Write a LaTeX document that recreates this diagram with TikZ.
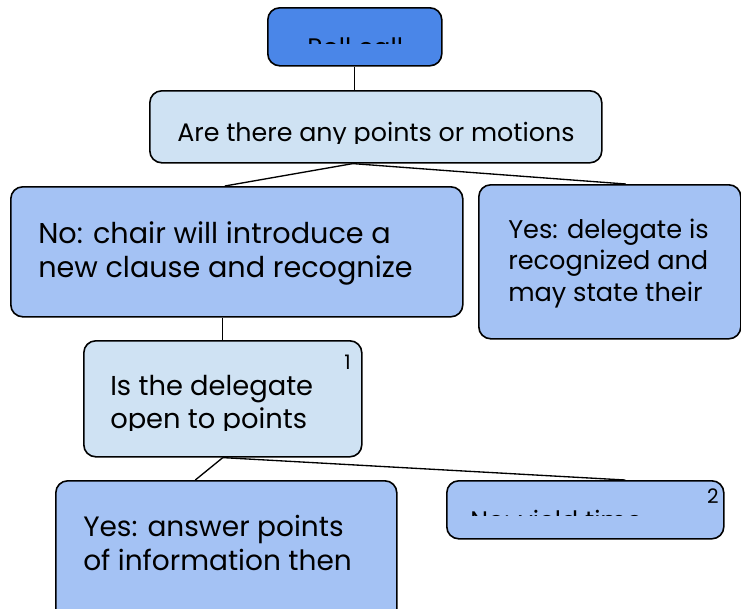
\documentclass[tikz,border=0pt]{standalone}
\usepackage{fontspec}
\setmainfont{Poppins}
\usetikzlibrary{calc}

\definecolor{rollblue}{HTML}{4A86E8}
\definecolor{paleblue}{HTML}{CFE2F3}
\definecolor{midblue}{HTML}{A4C2F4}

\tikzset{
  box/.style 2 args={draw, line width=1.2pt, rounded corners=9pt, anchor=north west,
    inner sep=0pt, minimum width=#1*0.75pt, minimum height=#2*0.75pt},
  txt/.style={anchor=base west, inner sep=0pt, align=left},
  num/.style={anchor=north east, inner sep=0pt, font=\fontsize{15}{18}\selectfont},
  conn/.style={line width=1pt},
}

\begin{document}
\begin{tikzpicture}[x=0.75pt,y=0.75pt,yscale=-1,xscale=1]
\useasboundingbox (0,0) rectangle (741,608);

% boxes
\node[box={174}{58}, fill=rollblue] (roll) at (267,7) {};
\node[box={452}{72}, fill=paleblue] (ask) at (149,90) {};
\node[box={452}{130}, fill=midblue] (no) at (10,186) {};
\node[box={262}{154}, fill=midblue] (yes) at (478,184) {};
\node[box={278}{116}, fill=paleblue] (is) at (83,340) {};
\node[box={341}{140}, fill=midblue] (ans) at (55,480) {};
\node[box={277}{58}, fill=midblue] (yield) at (446,480) {};

% connectors
\draw[conn] (roll.south) -- (roll.south |- ask.north);
\draw[conn] ($(ask.south)+(-23,0)$) -- ($(no.north)+(-12,0)$);
\draw[conn] ($(ask.south)+(-23,0)$) -- ($(yes.north)+(16,0)$);
\draw[conn] (is.north |- no.south) -- (is.north);
\draw[conn] (is.south) -- ($(ans.north)+(-31,0)$);
\draw[conn] (is.south) -- ($(yield.north)+(40,0)$);

% texts (base anchor sits on the last line)
\begin{scope}
\clip (267,7) rectangle (441,43);
\node[txt, font=\fontsize{19}{23}\selectfont] (rolltxt) at (307,56) {Roll call};
\end{scope}

\begin{scope}
\clip (149,90) rectangle (601,143);
\node[txt, font=\fontsize{19}{23}\selectfont] (asktxt) at (177,141) {Are there any points or motions};
\end{scope}

\node[txt, font=\fontsize{21.5}{25.5}\selectfont] (notxt) at (38,277) {No: chair will introduce a\\new clause and recognize};

\node[txt, font=\fontsize{19.2}{23.6}\selectfont] (yestxt) at (508,301) {Yes: delegate is\\recognized and\\may state their};

\begin{scope}
\clip (83,340) rectangle (361,430);
\node[txt, font=\fontsize{20.5}{24.5}\selectfont] (istxt) at (110,428) {Is the delegate\\open to points};
\end{scope}
\node[num] (isnum) at (351,355) {1};

\node[txt, font=\fontsize{21}{25.5}\selectfont] (anstxt) at (83,570) {Yes: answer points\\of information then};

\begin{scope}
\clip (446,480) rectangle (723,515);
\node[txt, font=\fontsize{19}{23}\selectfont] (yieldtxt) at (470,529) {No: yield time};
\end{scope}
\node[num] (yieldnum) at (719,488) {2};

\end{tikzpicture}
\end{document}
